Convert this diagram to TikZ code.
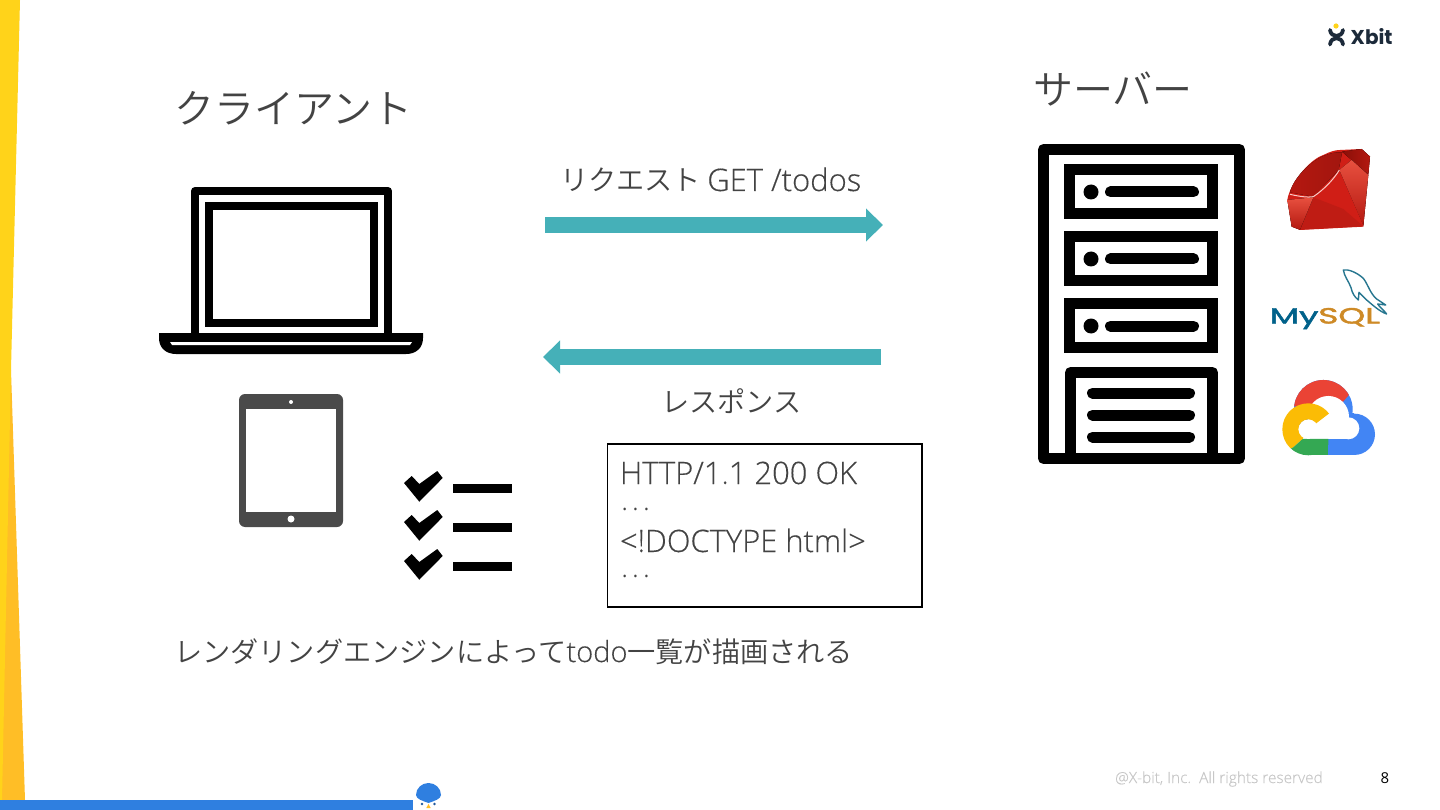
\documentclass[tikz,border=0pt]{standalone}
\usepackage{fontspec}
\setmainfont{Noto Sans CJK JP}[UprightFont=* DemiLight,BoldFont=* Bold]
\newfontfamily\lat{Open Sans}[UprightFont=* Light,FakeBold=0.3]
\newfontfamily\latreg{Open Sans}
\newfontfamily\logofont{Poppins}
\newfontfamily\mysqlfont{Poppins}[FakeBold=1.8]
\usetikzlibrary{arrows.meta}
\definecolor{txtgray}{HTML}{434343}
\definecolor{teal1}{HTML}{45B0B8}
\definecolor{band1}{HTML}{FFD31A}
\definecolor{band2}{HTML}{FFBE26}
\definecolor{barblue}{HTML}{2F7FE0}
\definecolor{tabgray}{HTML}{4A4A4A}
\definecolor{logodark}{HTML}{1C2A3A}
\definecolor{gblue}{HTML}{4285F4}
\definecolor{gred}{HTML}{EA4335}
\definecolor{gyellow}{HTML}{FBBC05}
\definecolor{ggreen}{HTML}{34A853}
\definecolor{dolphin}{HTML}{26768F}
\definecolor{myblue}{HTML}{00618A}
\definecolor{myorange}{HTML}{CE8A26}
\definecolor{rbase}{HTML}{D01E16}
\definecolor{rdark}{HTML}{8A0F08}
\definecolor{rmid}{HTML}{B41810}
\definecolor{rlight}{HTML}{E8503F}
\tikzset{
  txt/.style={anchor=base west,inner sep=0pt,outer sep=0pt,text=txtgray},
  big/.style={txt,font=\fontsize{40}{48}\selectfont},
  mid/.style={txt,font=\fontsize{28.2}{35}\selectfont},
  boxtxt/.style={txt,font=\lat\fontsize{30.9}{34}\selectfont},
  dotstxt/.style={txt,font=\latreg\fontsize{20}{22}\selectfont},
  flow/.style={teal1,line width=16pt,-{Triangle[length=17pt,width=32pt]}},
  ico/.style={draw=black,line width=8pt,line join=round},
  rack/.style={draw=black,line width=11pt,fill=white},
  slot/.style={draw=black,line width=11pt,line cap=round},
  logogrid/.style={x=0.3333pt,y=-0.3333pt},
}
\newcommand{\dotsline}{.\kern5.6pt.\kern5.6pt.}
\begin{document}
\begin{tikzpicture}[x=1pt,y=-1pt]
\useasboundingbox (0,0) rectangle (1440,810);
\fill[white] (0,0) rectangle (1440,810);
% side band
\fill[band2] (0,330) -- (11,370) -- (25,800) -- (0,800) -- cycle;
\fill[band1] (0,0) -- (20,0) -- (11,370) -- (2,800) -- (0,800) -- cycle;
\fill[barblue] (0,800) rectangle (413,810);
% bird
\fill[barblue] (416,795) .. controls (416,788) and (422,783) .. (428.5,783) .. controls (435,783) and (441,788) .. (441,795) .. controls (441,799) and (434,801) .. (428.5,803) .. controls (423,801) and (416,799) .. (416,795) -- cycle;
\fill[barblue!70!black] (422,804) circle[radius=1.4];
\fill[barblue!70!black] (434.5,804) circle[radius=1.4];
\fill[band2] (426.3,808) -- (430.7,808) -- (428.5,804) -- cycle;
% headings
\node[big] (client) at (174,124) {クライアント};
\node[big] (server) at (1033,105) {サーバー};
\node[mid] (req) at (560,191) {リクエスト {\lat\fontsize{31}{35}\selectfont GET /todos}};
\node[mid] (res) at (661,412) {レスポンス};
\node[mid] (render) at (174,662) {レンダリングエンジンによって{\lat\fontsize{29}{35}\selectfont todo}一覧が描画される};
% arrows
\coordinate (a1) at (545,225);
\coordinate (a2) at (883,225);
\coordinate (b1) at (881,357);
\coordinate (b2) at (543,357);
\draw[flow] (a1) -- (a2);
\draw[flow] (b1) -- (b2);
% laptop
\draw[ico] (195,333) -- (195,191) -- (388,191) -- (388,333);
\draw[ico,line join=miter] (209,206) rectangle (374,323);
\fill[black] (159,333) -- (423,333) -- (423,338) .. controls (423,348) and (416,354) .. (406,354) -- (176,354) .. controls (166,354) and (159,348) .. (159,338) -- cycle;
\fill[white] (170,342) -- (412,342) -- (410,345) -- (172,345) -- cycle;
% tablet
\fill[tabgray,rounded corners=6pt] (239,394) rectangle (343,527);
\fill[white] (246,409) rectangle (336,512);
\fill[white] (291,402) circle[radius=2];
\fill[white] (291,519) circle[radius=3.5];
% checklist
\foreach \d in {0,39,78}{
  \fill[black] (404,483+\d) -- (411.7,476+\d) -- (419.3,484+\d) -- (437.3,471+\d) -- (442.7,478+\d) -- (419.3,501.7+\d) -- cycle;
}
\fill[black] (453,484) rectangle (512,493);
\fill[black] (453,523) rectangle (512,532);
\fill[black] (453,562) rectangle (512,571);
% response box
\node[draw=black,line width=1.5pt,fill=white,minimum width=314.5pt,minimum height=163pt,anchor=north west,inner sep=0pt,outer sep=0pt] (box) at (607.5,443.8) {};
\node[boxtxt] (l1) at (620,484) {HTTP/1.1 200 OK};
\node[dotstxt] (l2) at (622,510) {\dotsline};
\node[boxtxt] (l3) at (620,552) {<!DOCTYPE html>};
\node[dotstxt] (l4) at (622,577) {\dotsline};
% server
\draw[draw=black,line width=11pt,line join=round] (1043.5,149.5) rectangle (1239.5,458.5);
\foreach \t in {164,231,298}{
  \draw[rack] (1069.5,\t+5.5) rectangle (1212.5,\t+49.5);
  \fill[black] (1091,\t+28) circle[radius=7.5];
  \draw[slot] (1110.5,\t+28) -- (1193.5,\t+28);
}
\draw[draw=black,line width=11pt,line join=round] (1070.5,458) -- (1070.5,372.5) -- (1212.5,372.5) -- (1212.5,458);
\foreach \t in {393,415,437}{
  \draw[slot] (1092.5,\t) -- (1189.5,\t);
}
% ruby
\begin{scope}[shift={(1280,145)},logogrid]
\fill[rbase] (22,165) .. controls (28,120) and (85,45) .. (130,30) .. controls (150,20) and (165,15) .. (180,15) -- (245,12) -- (270,35) -- (250,245) -- (60,255) -- (35,245) -- cycle;
\fill[left color=rmid,right color=rmid!90!black] (30,142) .. controls (40,100) and (90,50) .. (130,33) .. controls (150,25) and (170,20) .. (186,22) -- (176,75) -- (100,155) -- cycle;
\fill[left color=rdark,right color=rmid] (186,20) -- (245,12) -- (270,35) -- (265,88) -- (215,45) -- cycle;
\fill[top color=rlight,bottom color=rmid] (178,75) -- (215,45) -- (265,90) -- (250,242) -- cycle;
\fill[rbase] (100,155) -- (178,78) -- (250,242) -- (190,190) -- cycle;
\fill[rbase!92!black] (100,157) -- (190,192) -- (250,244) -- (60,254) -- cycle;
\fill[top color=rlight,bottom color=rmid] (22,165) -- (100,157) -- (60,254) -- (35,245) -- cycle;
\draw[white!70!rlight,line width=1pt] (30,148) .. controls (60,155) and (85,158) .. (100,155) .. controls (130,135) and (160,105) .. (178,75);
\end{scope}
% mysql
\node[anchor=base west,inner sep=0pt,font=\mysqlfont\fontsize{22}{26}\selectfont,xscale=1.55,transform shape] (mysql) at (1269.5,323.5) {\textcolor{myblue}{My}\textcolor{myorange}{SQL}};
\begin{scope}[shift={(1265,265)},logogrid]
\draw[draw=dolphin,line width=1.4pt,line join=round] (235,15) .. controls (250,12) and (275,22) .. (295,40) .. controls (310,60) and (315,85) .. (335,102) -- (362,120) -- (338,117) .. controls (345,128) and (358,137) .. (365,147) .. controls (345,140) and (325,122) .. (305,105) .. controls (295,95) and (288,88) .. (282,82) -- (280,105) .. controls (268,95) and (262,85) .. (258,68) .. controls (252,50) and (238,35) .. (235,15) -- cycle;
\end{scope}
% google cloud
\begin{scope}[shift={(1260,130)},logogrid]
\fill[gblue] (190,838) circle[radius=88];
\fill[gblue] (283,913) circle[radius=62];
\fill[gblue] (205,850) rectangle (283,975);
\begin{scope}
\clip (90,700) -- (300,700) -- (278,782) -- (245,820) -- (90,830) -- cycle;
\fill[gred] (190,838) circle[radius=88];
\end{scope}
\fill[white] (205,860) circle[radius=62];
\fill[white] (265,895) circle[radius=33];
\fill[white] (145,868) rectangle (265,928);
\fill[white] (145,898) circle[radius=30];
\begin{scope}
\clip (40,700) -- (200,700) -- (208,850) -- (145,898) -- (128,927) -- (100,952) -- (40,980) -- cycle;
\fill[gyellow,even odd rule] (145,898) circle[radius=78] (145,898) circle[radius=30];
\end{scope}
\begin{scope}
\clip (100,952) -- (128,927) -- (205,927) -- (205,980) -- (40,980) -- cycle;
\fill[ggreen,even odd rule] (145,898) circle[radius=78] (145,898) circle[radius=30];
\fill[ggreen] (145,928) rectangle (205,975);
\end{scope}
\end{scope}
% Xbit logo
\fill[band1] (1336,26) circle[radius=2.6];
\draw[logodark,line width=3.8pt,line cap=round] (1330,30) .. controls (1331,38) and (1342,38) .. (1343,30);
\draw[logodark,line width=3.8pt,line cap=round] (1330,44.5) .. controls (1331,36) and (1342,36) .. (1343,44.5);
\node[anchor=base west,inner sep=0pt,text=logodark,font=\logofont\bfseries\fontsize{20}{24}\selectfont] (xbit) at (1350.5,45) {Xbit};
% footer
\node[anchor=base west,inner sep=0pt,text=black!22,font=\lat\fontsize{15.4}{17}\selectfont] (copy) at (1115,783) {@X-bit, Inc.\ \ All rights reserved};
\node[anchor=base,inner sep=0pt,text=black,font=\latreg\fontsize{15}{17}\selectfont] (page) at (1385,783) {8};
\end{tikzpicture}
\end{document}
